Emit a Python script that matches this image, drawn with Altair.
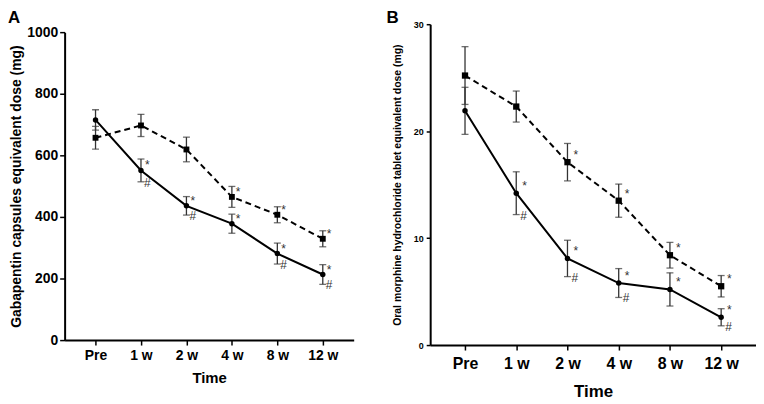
import altair as alt
import pandas as pd

times = ["Pre", "1 w", "2 w", "4 w", "8 w", "12 w"]

# Panel A: gabapentin
a_solid_mean = [715, 551, 436, 378, 281, 213]
a_solid_err = [33, 37, 30, 31, 34, 32]
a_dash_mean = [657, 697, 619, 465, 407, 329]
a_dash_err = [37, 36, 40, 34, 26, 26]
a_solid_star = ["", "*", "*", "*", "*", "*"]
a_solid_hash = ["", "#", "#", "", "#", "#"]
a_dash_star = ["", "", "", "*", "*", "*"]

# Panel B: oral morphine
b_solid_mean = [21.9, 14.2, 8.1, 5.8, 5.2, 2.6]
b_solid_err = [2.2, 2.0, 1.7, 1.35, 1.55, 0.8]
b_dash_mean = [25.2, 22.3, 17.1, 13.5, 8.4, 5.5]
b_dash_err = [2.7, 1.45, 1.75, 1.55, 1.2, 1.0]
b_solid_star = ["", "*", "*", "*", "*", "*"]
b_solid_hash = ["", "#", "#", "#", "", "#"]
b_dash_star = ["", "", "*", "*", "*", "*"]

FONT = "Liberation Sans"


def frame(sm, se, dm, de, ss, sh, ds):
    rows = []
    for i, t in enumerate(times):
        rows.append(dict(time=t, series="solid", mean=sm[i], lo=sm[i] - se[i],
                         hi=sm[i] + se[i], star=ss[i], hash=sh[i]))
        rows.append(dict(time=t, series="dashed", mean=dm[i], lo=dm[i] - de[i],
                         hi=dm[i] + de[i], star=ds[i], hash=""))
    return pd.DataFrame(rows)


def panel(df, letter, ytitle, ydomain, yvals, w, h, o):
    x = alt.X("time:N", sort=times, title="Time",
              scale=alt.Scale(type="point", padding=0.68),
              axis=alt.Axis(labelAngle=0, labelFontSize=o["xl"], titleFontSize=o["xt"],
                            labelPadding=o["lp"], titlePadding=o["xtp"]))
    yscale = alt.Scale(domain=ydomain, nice=False, range=[h, o["ytop"]])
    y = alt.Y("mean:Q", title=ytitle, scale=yscale,
              axis=alt.Axis(values=yvals, format="d", labelFontSize=o["yl"],
                            titleFontSize=o["yt"], titlePadding=o["ytp"],
                            tickSize=o["ts"], labelPadding=o["ylp"]))
    base = alt.Chart(df)
    solid = base.transform_filter("datum.series == 'solid'")
    dashed = base.transform_filter("datum.series == 'dashed'")
    line_s = solid.mark_line(color="black", strokeWidth=2).encode(x=x, y=y)
    line_d = dashed.mark_line(color="black", strokeWidth=2, strokeDash=[6, 4]).encode(x=x, y=y)
    rule = base.mark_rule(color="#333333", strokeWidth=1.3).encode(
        x=x, y=alt.Y("lo:Q", scale=yscale), y2="hi:Q")
    cap_lo = base.mark_tick(color="#333333", thickness=1.3, size=7).encode(
        x=x, y=alt.Y("lo:Q", scale=yscale))
    cap_hi = base.mark_tick(color="#333333", thickness=1.3, size=7).encode(
        x=x, y=alt.Y("hi:Q", scale=yscale))
    pts_s = solid.mark_point(filled=True, shape="circle", size=o["ps"], color="black",
                             opacity=1).encode(x=x, y=y)
    pts_d = dashed.mark_point(filled=True, shape="square", size=o["pd"], color="black",
                              opacity=1).encode(x=x, y=y)
    star = base.mark_text(dx=o["sdx"], dy=o["sdy"], fontSize=o["af"], font=FONT,
                          color="#333333", align="left", baseline="middle").encode(
        x=x, y=y, text="star:N")
    hsh = base.mark_text(dx=o["hdx"], dy=1, fontSize=o["af"], font=FONT, color="#333333",
                         align="left", baseline="middle").encode(
        x=x, y=alt.Y("lo:Q", scale=yscale), text="hash:N")
    lab = alt.Chart(pd.DataFrame({"t": [letter]})).mark_text(
        fontSize=17, fontWeight="bold", font=FONT, color="black", align="left",
        baseline="top").encode(x=alt.value(o["lx"]), y=alt.value(-14), text="t:N")
    return alt.layer(line_s, line_d, rule, cap_lo, cap_hi, pts_s, pts_d, star, hsh, lab).properties(
        width=w, height=h)


dfa = frame(a_solid_mean, a_solid_err, a_dash_mean, a_dash_err, a_solid_star, a_solid_hash, a_dash_star)
dfb = frame(b_solid_mean, b_solid_err, b_dash_mean, b_dash_err, b_solid_star, b_solid_hash, b_dash_star)

pa = panel(dfa, "A", "Gabapentin capsules equivalent dose (mg)", [0, 1000],
           [0, 200, 400, 600, 800, 1000], 291, 318,
           dict(xl=14, xt=15, lp=4, xtp=8, yl=14, yt=14, ytp=3, ts=5, ylp=2, ytop=8,
                ps=30, pd=35, sdx=4, sdy=-5, hdx=3, af=12, lx=-57))
pb = panel(dfb, "B", "Oral morphine hydrochloride tablet equivalent dose (mg)", [0, 30],
           [0, 10, 20, 30], 328, 323,
           dict(xl=16, xt=17, lp=6, xtp=12, yl=9, yt=10.5, ytp=11, ts=4, ylp=3, ytop=0,
                ps=30, pd=40, sdx=6, sdy=-7, hdx=4, af=12, lx=-44))

chart = alt.hconcat(pa, pb, spacing=33).properties(padding=0).configure_view(
    stroke=None).configure_axis(
    grid=False, domainColor="black", domainWidth=2, tickColor="black", tickWidth=1.5,
    labelColor="black", titleColor="black", labelFont=FONT, titleFont=FONT,
    labelFontWeight="bold", titleFontWeight="bold").configure_axisX(tickSize=5)

chart.save("out.html", embed_options={"renderer": "svg", "actions": False})
